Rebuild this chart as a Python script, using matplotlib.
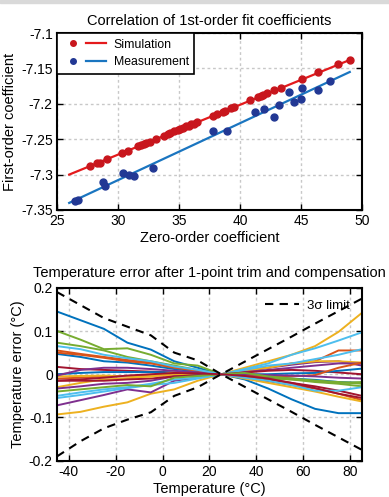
import matplotlib
matplotlib.use('Agg')
import matplotlib.pyplot as plt
from matplotlib.lines import Line2D
from matplotlib.legend_handler import HandlerTuple
from matplotlib.patches import Rectangle

plt.rcParams['font.family'] = ['Liberation Sans', 'DejaVu Sans']
plt.rcParams['axes.unicode_minus'] = False

# --- top panel: fit coefficient correlation ---
sim_x = [27.7, 28.3, 28.5, 29.1, 30.3, 30.8, 31.6, 31.9, 32.1, 32.3, 32.6, 33.1,
         33.8, 34.1, 34.3, 34.6, 34.9, 35.1, 35.3, 35.6, 35.8, 36.0, 36.2, 36.5,
         37.8, 38.1, 38.6, 38.8, 39.3, 39.5, 40.8, 41.5, 41.7, 41.9, 42.2, 42.8,
         43.4, 45.1, 46.4, 48.0, 49.0]
sim_y = [-7.288, -7.284, -7.283, -7.278, -7.270, -7.267, -7.260, -7.258, -7.257,
         -7.255, -7.254, -7.250, -7.245, -7.243, -7.241, -7.239, -7.237, -7.236,
         -7.234, -7.232, -7.231, -7.229, -7.228, -7.226, -7.217, -7.215, -7.211,
         -7.210, -7.206, -7.205, -7.195, -7.191, -7.189, -7.188, -7.185, -7.181,
         -7.177, -7.165, -7.155, -7.144, -7.138]
sim_fit_x = [26.0, 49.0]
sim_fit_y = [-7.300, -7.138]

meas_x = [26.5, 26.7, 28.8, 28.9, 30.4, 30.9, 31.3, 32.9, 37.8, 38.9, 41.2, 42.0,
          42.8, 43.2, 44.0, 44.4, 45.1, 45.0, 46.4, 47.4]
meas_y = [-7.338, -7.336, -7.310, -7.316, -7.298, -7.300, -7.302, -7.291, -7.239,
          -7.238, -7.212, -7.208, -7.218, -7.201, -7.183, -7.197, -7.177, -7.193,
          -7.180, -7.168]
meas_fit_x = [26.0, 49.0]
meas_fit_y = [-7.340, -7.155]

# --- bottom panel: temperature error curves ---
temps = [-45, -35, -25, -15, -5, 5, 15, 25, 35, 45, 55, 65, 75, 85]
sigma_hi = [0.19, 0.16, 0.13, 0.11, 0.09, 0.05, 0.032, 0, 0.029, 0.058, 0.087, 0.117, 0.146, 0.175]
sigma_lo = [-0.19, -0.155, -0.125, -0.105, -0.088, -0.05, -0.03, 0, -0.029, -0.058, -0.087, -0.117, -0.146, -0.175]

err_curves = [
    [0.145, 0.125, 0.105, 0.073, 0.057, 0.030, 0.015, 0, -0.012, -0.033, -0.058, -0.080, -0.090, -0.090],
    [0.055, 0.047, 0.040, 0.033, 0.027, 0.015, 0.008, 0, -0.008, -0.016, -0.025, -0.033, -0.045, -0.060],
    [-0.093, -0.087, -0.075, -0.065, -0.045, -0.035, -0.015, 0, 0.015, 0.030, 0.045, 0.065, 0.098, 0.142],
    [-0.072, -0.060, -0.048, -0.035, -0.042, -0.015, -0.008, 0, 0.008, 0.015, 0.022, 0.028, 0.030, 0.020],
    [0.100, 0.080, 0.058, 0.060, 0.045, 0.025, 0.020, 0, -0.005, -0.008, -0.012, -0.018, -0.022, -0.028],
    [-0.055, -0.048, -0.040, -0.032, -0.025, -0.020, -0.010, 0, 0.012, 0.025, 0.045, 0.060, 0.078, 0.097],
    [0.017, 0.012, 0.010, 0.008, 0.006, 0.004, 0.002, 0, -0.006, -0.012, -0.020, -0.028, -0.038, -0.050],
    [0.047, 0.040, 0.030, 0.027, 0.020, 0.012, 0.006, 0, -0.003, -0.006, -0.010, -0.013, -0.018, -0.020],
    [-0.010, -0.008, -0.005, -0.005, -0.003, -0.002, -0.001, 0, 0.008, 0.015, 0.025, 0.030, 0.055, 0.055],
    [-0.030, -0.020, -0.012, -0.010, -0.004, -0.002, -0.001, 0, 0.008, 0.015, 0.025, 0.030, 0.030, 0.027],
    [-0.033, -0.028, -0.022, -0.020, -0.015, -0.005, -0.003, 0, 0.005, 0.010, 0.015, 0.020, 0.025, 0.025],
    [0.073, 0.065, 0.055, 0.040, 0.030, 0.020, 0.010, 0, -0.005, -0.010, -0.012, -0.015, -0.018, -0.022],
    [-0.050, -0.042, -0.035, -0.030, -0.022, -0.012, -0.008, 0, 0.010, 0.020, 0.025, 0.035, 0.045, 0.058],
    [-0.015, -0.015, -0.015, -0.012, -0.010, -0.005, -0.002, 0, 0.004, 0.008, 0.010, 0.008, 0.004, 0.000],
    [0.000, 0.003, 0.005, 0.005, 0.005, 0.004, 0.002, 0, 0.000, 0.000, 0.002, 0.003, 0.008, 0.013],
    [0.050, 0.045, 0.038, 0.030, 0.025, 0.015, 0.008, 0, -0.003, -0.005, -0.005, -0.002, 0.015, 0.027],
    [-0.005, -0.004, -0.003, -0.005, -0.006, 0.005, 0.003, 0, -0.010, -0.020, -0.030, -0.040, -0.052, -0.063],
    [-0.003, 0.010, 0.015, 0.015, 0.012, 0.008, 0.004, 0, 0.000, -0.002, -0.003, -0.005, -0.008, -0.010],
    [-0.040, -0.035, -0.030, -0.025, -0.028, -0.008, -0.004, 0, 0.003, -0.005, -0.010, -0.015, -0.020, -0.018],
    [0.065, 0.058, 0.045, 0.037, 0.030, 0.018, 0.010, 0, -0.008, -0.015, -0.025, -0.038, -0.038, -0.030],
    [-0.015, -0.012, -0.008, -0.003, 0.000, 0.003, 0.002, 0, -0.004, -0.010, -0.020, -0.032, -0.045, -0.055],
]
curve_colors = ['#0072BD', '#D95319', '#EDB120', '#7E2F8E', '#77AC30', '#4DBEEE', '#A2142F']

fig = plt.figure(figsize=(3.89, 4.97), dpi=100)
fig.patches.append(Rectangle((0, 0.993), 1, 0.007, transform=fig.transFigure,
                             color='#d9d9d9', zorder=0))


def style_axes(ax):
    for s in ax.spines.values():
        s.set_linewidth(1.5)
    ax.tick_params(direction='in', top=True, right=True, labelsize=10,
                   length=4, width=1, pad=3)
    ax.grid(True, linestyle=(0, (2, 2)), color='#c8c8c8', linewidth=1)
    ax.set_axisbelow(True)


# top panel
ax1 = fig.add_axes([0.1465, 0.5775, 0.784, 0.356])
ax1.plot(sim_fit_x, sim_fit_y, color='#E41A1C', lw=1.6)
ax1.plot(meas_fit_x, meas_fit_y, color='#1A75C0', lw=1.6)
ax1.plot(sim_x, sim_y, 'o', color='#C8161D', ms=5, ls='none')
ax1.plot(meas_x, meas_y, 'o', color='#223894', ms=5, ls='none')
ax1.set_xlim(25, 50)
ax1.set_ylim(-7.35, -7.1)
ax1.set_xticks([25, 30, 35, 40, 45, 50])
ax1.set_yticks([-7.35, -7.3, -7.25, -7.2, -7.15, -7.1])
ax1.set_yticklabels(['-7.35', '-7.3', '-7.25', '-7.2', '-7.15', '-7.1'])
style_axes(ax1)
ax1.set_title('Correlation of 1st-order fit coefficients', fontsize=10.5, pad=6)
ax1.set_xlabel('Zero-order coefficient', fontsize=10.5, labelpad=2)
ax1.set_ylabel('First-order coefficient', fontsize=10.5, labelpad=3)
h_sim = (Line2D([], [], marker='o', color='#C8161D', ms=4, ls='none'),
         Line2D([], [], color='#E41A1C', lw=1.6))
h_meas = (Line2D([], [], marker='o', color='#223894', ms=4, ls='none'),
          Line2D([], [], color='#1A75C0', lw=1.6))
leg = ax1.legend([h_sim, h_meas], ['Simulation', 'Measurement'],
                 handler_map={tuple: HandlerTuple(ndivide=2, pad=0.2)},
                 loc='upper left', bbox_to_anchor=(0, 1), borderaxespad=0,
                 fontsize=8.8, handlelength=3.6, fancybox=False, framealpha=1,
                 edgecolor='black', borderpad=0.45, labelspacing=0.45,
                 handletextpad=0.6)
leg.get_frame().set_linewidth(1.2)

# bottom panel
ax2 = fig.add_axes([0.1465, 0.073, 0.784, 0.348])
for i, vals in enumerate(err_curves):
    ax2.plot(temps, vals, color=curve_colors[i % len(curve_colors)], lw=1.4)
ax2.plot(temps, sigma_hi, color='black', lw=1.5, ls=(0, (4, 3)), label='3\u03c3 limit')
ax2.plot(temps, sigma_lo, color='black', lw=1.5, ls=(0, (4, 3)))
ax2.set_xlim(-45, 85)
ax2.set_ylim(-0.2, 0.2)
ax2.set_xticks([-40, -20, 0, 20, 40, 60, 80])
ax2.set_yticks([-0.2, -0.1, 0, 0.1, 0.2])
ax2.set_yticklabels(['-0.2', '-0.1', '0', '0.1', '0.2'])
style_axes(ax2)
ax2.set_title('Temperature error after 1-point trim and compensation', fontsize=10.5, pad=8)
ax2.set_xlabel('Temperature (\u00b0C)', fontsize=10.5, labelpad=2)
ax2.set_ylabel('Temperature error (\u00b0C)', fontsize=10.5, labelpad=3)
ax2.legend(loc='upper right', frameon=False, fontsize=9.5, handlelength=2.6,
           borderaxespad=0.5, handletextpad=0.6)

fig.savefig('out.png', dpi=100)
